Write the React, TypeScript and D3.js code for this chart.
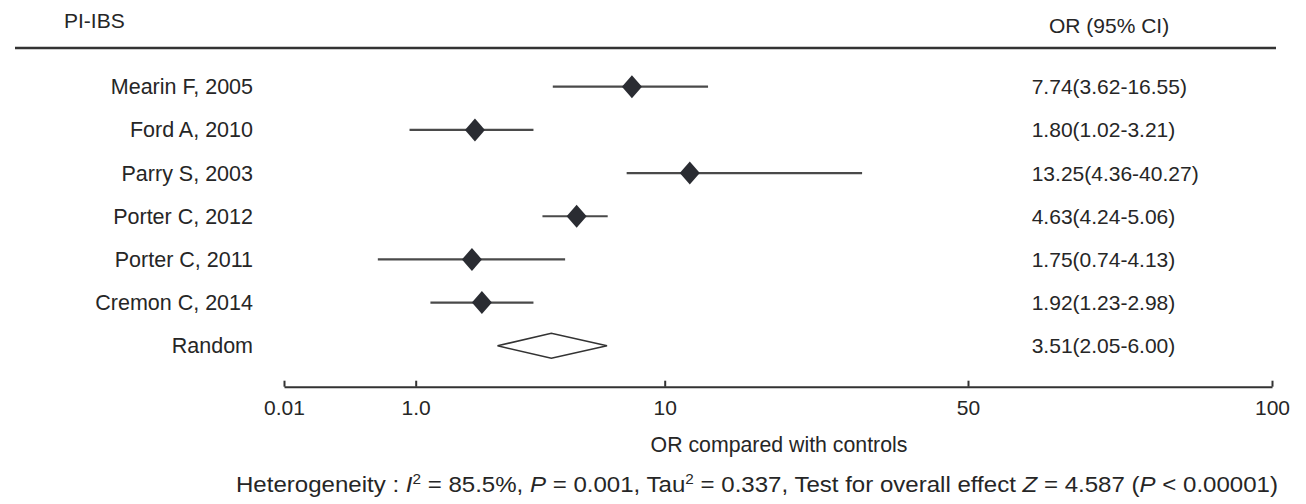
import React, { useEffect, useRef } from "react";
import * as d3 from "d3";

// studies, top to bottom
const studies = ["Mearin F, 2005", "Ford A, 2010", "Parry S, 2003", "Porter C, 2012", "Porter C, 2011", "Cremon C, 2014"];
const ciLabels = ["7.74(3.62-16.55)", "1.80(1.02-3.21)", "13.25(4.36-40.27)", "4.63(4.24-5.06)", "1.75(0.74-4.13)", "1.92(1.23-2.98)"];
const estimates = [7.74, 1.8, 13.25, 4.63, 1.75, 1.92];
// whisker ends as they are drawn in the figure
const whiskerLow = [3.71, 0.98, 7.37, 3.37, 0.73, 1.19];
const whiskerHigh = [15.7, 3.1, 65.7, 6.18, 4.16, 3.1];

const pooledLabel = "Random";
const pooledText = "3.51(2.05-6.00)";
const pooledEst = 3.66;
const pooledLow = 2.22;
const pooledHigh = 6.14;

const axisTicks = [0.01, 1, 10, 50, 100];
const axisTickLabels = ["0.01", "1.0", "10", "50", "100"];

const FONT = "'Liberation Sans', Arial, Helvetica, sans-serif";
const INK = "#262626";

export default function App() {
  const svgRef = useRef<SVGSVGElement | null>(null);

  useEffect(() => {
    if (!svgRef.current) return;
    const svg = d3.select(svgRef.current);
    svg.selectAll("*").remove();

    const rows = [...studies, pooledLabel];
    const y = d3.scalePoint<string>().domain(rows).range([86.7, 345.8]);

    // marks sit on a plain log scale
    const x = d3.scaleLog().domain([1, 10]).range([411.7, 659.5]);
    // the printed axis ticks are spaced unevenly
    const xAxis = d3.scaleLog().domain(axisTicks).range([284, 415.7, 664.7, 968, 1272]);

    // header
    svg.append("text")
      .attr("x", 64).attr("y", 28)
      .attr("font-size", 21).attr("font-family", FONT).attr("fill", INK)
      .text("PI-IBS");
    svg.append("text")
      .attr("x", 1049).attr("y", 32.5)
      .attr("font-size", 21).attr("font-family", FONT).attr("fill", INK)
      .text("OR (95% CI)");
    svg.append("line")
      .attr("x1", 15).attr("x2", 1276).attr("y1", 48).attr("y2", 48)
      .attr("stroke", "#333").attr("stroke-width", 2.6);

    // study labels + CI text
    svg.append("g")
      .selectAll("text")
      .data(rows)
      .enter()
      .append("text")
      .attr("x", 253)
      .attr("y", (d) => y(d)! + 7.6)
      .attr("text-anchor", "end")
      .attr("font-size", 21.5).attr("font-family", FONT).attr("fill", INK)
      .text((d) => d);

    svg.append("g")
      .selectAll("text")
      .data([...ciLabels, pooledText])
      .enter()
      .append("text")
      .attr("x", 1031.7)
      .attr("y", (_, i) => y(rows[i])! + 7.6)
      .attr("font-size", 21).attr("font-family", FONT).attr("fill", INK)
      .text((d) => d);

    const data = studies.map((s, i) => ({
      s,
      est: estimates[i],
      lo: whiskerLow[i],
      hi: whiskerHigh[i],
    }));

    // whiskers
    svg.append("g")
      .selectAll("line")
      .data(data)
      .enter()
      .append("line")
      .attr("x1", (d) => x(d.lo))
      .attr("x2", (d) => x(d.hi))
      .attr("y1", (d) => y(d.s)!)
      .attr("y2", (d) => y(d.s)!)
      .attr("stroke", "#4a4a4a")
      .attr("stroke-width", 2.2);

    // point estimates (filled diamonds)
    const hw = 10;
    const hh = 11.5;
    svg.append("g")
      .selectAll("path")
      .data(data)
      .enter()
      .append("path")
      .attr("d", (d) => {
        const cx = x(d.est);
        const cy = y(d.s)!;
        return `M${cx - hw},${cy}L${cx},${cy - hh}L${cx + hw},${cy}L${cx},${cy + hh}Z`;
      })
      .attr("fill", "#2a2c32");

    // pooled diamond
    const py = y(pooledLabel)!;
    svg.append("path")
      .attr("d", `M${x(pooledLow)},${py}L${x(pooledEst)},${py - 12.5}L${x(pooledHigh)},${py}L${x(pooledEst)},${py + 12.5}Z`)
      .attr("fill", "#fff")
      .attr("stroke", "#333")
      .attr("stroke-width", 1.6);

    // x axis
    const axisG = svg.append("g")
      .attr("transform", "translate(0,386.7)")
      .call(
        d3.axisBottom(xAxis)
          .tickValues(axisTicks)
          .tickFormat((_, i) => axisTickLabels[i])
          .tickSize(-6)
          .tickSizeOuter(0)
          .tickPadding(13)
      );
    axisG.select(".domain").attr("stroke", "#333").attr("stroke-width", 2);
    axisG.selectAll(".tick line").attr("stroke", "#333").attr("stroke-width", 2);
    axisG.selectAll(".tick text")
      .attr("font-size", 21).attr("font-family", FONT).attr("fill", INK);

    svg.append("text")
      .attr("x", 779).attr("y", 452)
      .attr("text-anchor", "middle")
      .attr("font-size", 21.3).attr("font-family", FONT).attr("fill", INK)
      .text("OR compared with controls");

    // heterogeneity footnote
    const foot = svg.append("text")
      .attr("x", 236).attr("y", 492)
      .attr("font-size", 22).attr("font-family", FONT).attr("fill", INK)
      .attr("textLength", 1042).attr("lengthAdjust", "spacingAndGlyphs");
    const parts: [string, string][] = [
      ["Heterogeneity : ", ""],
      ["I", "i"],
      ["2", "sup"],
      [" = 85.5%, ", ""],
      ["P", "i"],
      [" = 0.001, Tau", ""],
      ["2", "sup"],
      [" = 0.337, Test for overall effect ", ""],
      ["Z", "i"],
      [" = 4.587 (", ""],
      ["P", "i"],
      [" < 0.00001)", ""],
    ];
    parts.forEach(([t, kind], i) => {
      const ts = foot.append("tspan").text(t);
      if (kind === "i") ts.attr("font-style", "italic");
      if (kind === "sup") ts.attr("font-size", 14).attr("dy", -8);
      else if (i > 0 && parts[i - 1][1] === "sup") ts.attr("dy", 8);
    });
  }, []);

  return (
    <svg
      ref={svgRef}
      width={1306}
      height={504}
      style={{ position: "absolute", left: 0, top: 0, background: "#fff" }}
    />
  );
}
